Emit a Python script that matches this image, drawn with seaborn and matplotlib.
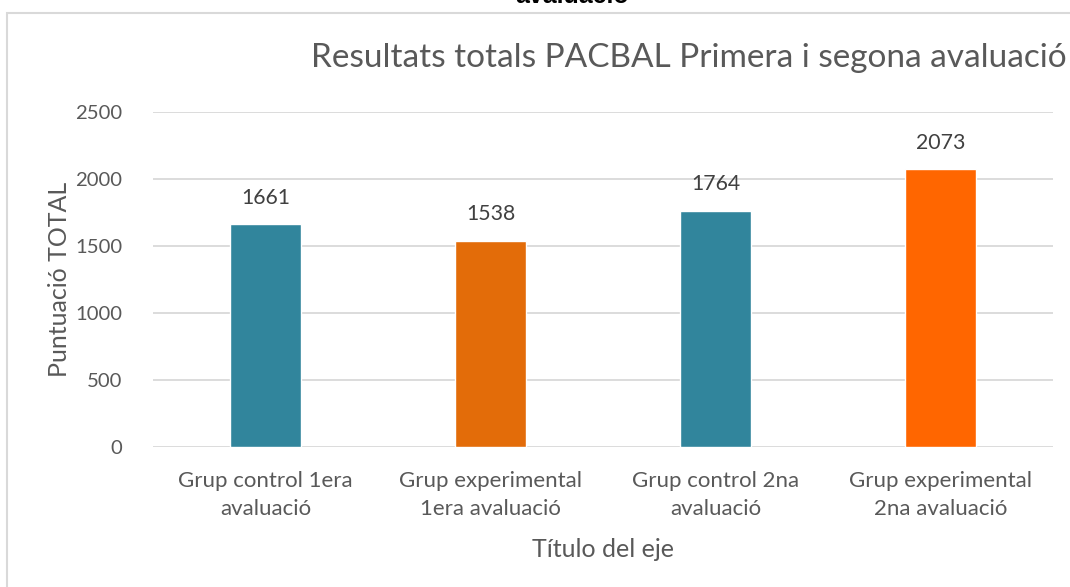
import seaborn as sns
import matplotlib.pyplot as plt
from matplotlib.patches import Rectangle

# data
categories = ['Grup control 1era\navaluació', 'Grup experimental\n1era avaluació',
              'Grup control 2na\navaluació', 'Grup experimental\n2na avaluació']
scores = [1661, 1538, 1764, 2073]
bar_colors = ['#31859C', '#E36C09', '#31859C', '#FF6600']

sns.set_theme(style='white')
plt.rcParams['font.family'] = ['Lato', 'DejaVu Sans']

fig = plt.figure(figsize=(10.7, 5.87), dpi=100)
ax = fig.add_axes([153 / 1070, 1 - 447 / 587, 900 / 1070, 335 / 587])

sns.barplot(x=categories, y=scores, hue=categories, palette=bar_colors,
            width=0.316, legend=False, saturation=1, ax=ax)

ax.set_ylim(0, 2500)
ax.set_yticks([0, 500, 1000, 1500, 2000, 2500])
ax.yaxis.grid(True, color='#D9D9D9', linewidth=1.3)
ax.set_axisbelow(True)
for s in ax.spines.values():
    s.set_visible(False)
ax.tick_params(axis='y', length=0, labelsize=14.6, labelcolor='#595959', pad=22)
ax.tick_params(axis='x', length=0, labelsize=16, labelcolor='#595959', pad=17)
for lbl in ax.get_xticklabels():
    lbl.set_linespacing(1.5)

for c in ax.containers:
    ax.bar_label(c, padding=12, fontsize=15.3, color='#404040')

ax.set_xlabel('Título del eje', fontsize=18, color='#595959', labelpad=14)
ax.set_ylabel('Puntuació TOTAL', fontsize=18, color='#595959')
ax.yaxis.set_label_coords(-0.091, 0.5)

# chart title, cut off on the right like the original
fig.text(311 / 1070, 1 - 67 / 587, 'Resultats totals PACBAL Primera i segona avaluació',
         fontsize=24, color='#595959', ha='left', va='baseline')

# leftover text from the cropped document above
fig.text(572 / 1070, 1 - 3 / 587, 'avaluació', fontsize=18, fontweight='bold',
         color='black', ha='center', va='baseline', family='Liberation Sans')

# outer chart frame
fig.patches.append(Rectangle((7 / 1070, -0.1), 1.2, 1.1 - 13 / 587,
                             transform=fig.transFigure, fill=False,
                             edgecolor='#D9D9D9', linewidth=1.5))

fig.savefig('out.png', dpi=100)
